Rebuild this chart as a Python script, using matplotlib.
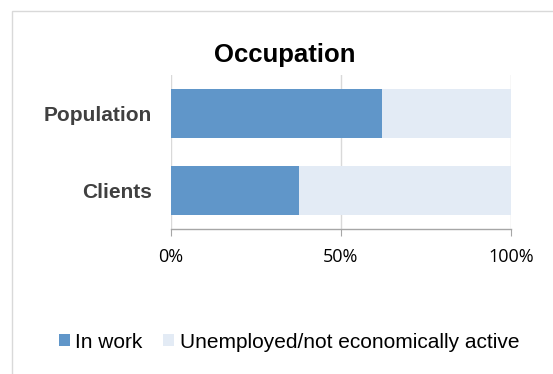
import matplotlib.pyplot as plt
from matplotlib.patches import Rectangle
from matplotlib.ticker import FuncFormatter

plt.rcParams['font.family'] = ['Liberation Sans', 'DejaVu Sans']

groups = ["Clients", "Population"]
in_work = [37.6, 62.0]
not_active = [100 - v for v in in_work]
series_names = ["In work", "Unemployed/not economically active"]
colors = ["#6096C9", "#E3EBF5"]

fig = plt.figure(figsize=(5.53, 3.74), dpi=100)
ax = fig.add_axes([171 / 553, 1 - 229 / 374, 340 / 553, 154 / 374])

# outer chart frame
fig.patches.append(Rectangle((12 / 553, -0.01), 1.0, 1 - 11 / 374 + 0.01,
                             transform=fig.transFigure, fill=False,
                             edgecolor="#D9D9D9", linewidth=1.0))

y = range(len(groups))
ax.barh(y, in_work, height=0.64, color=colors[0], label=series_names[0], zorder=2)
ax.barh(y, not_active, left=in_work, height=0.64, color=colors[1],
        label=series_names[1], zorder=2)

ax.set_xlim(0, 100)
ax.set_ylim(-0.5, 1.5)
ax.set_xticks([0, 50, 100])
ax.xaxis.set_major_formatter(FuncFormatter(lambda v, _: f"{v:.0f}%"))
for lbl in ax.get_xticklabels():
    lbl.set_family("Open Sans")
ax.set_yticks(list(y))
ax.set_yticklabels(groups, fontsize=15, fontweight="bold", color="#404040")
ax.tick_params(axis="y", length=0, pad=14)
ax.tick_params(axis="x", length=5, color="#A6A6A6", labelsize=13,
               labelcolor="#000000", pad=9)
ax.grid(axis="x", color="#D9D9D9", linewidth=1.0, zorder=0)

for side in ["top", "right", "left"]:
    ax.spines[side].set_visible(False)
ax.spines["bottom"].set_color("#A6A6A6")
ax.spines["bottom"].set_linewidth(1.0)

fig.text(285 / 553, 1 - 55 / 374, "Occupation", ha="center", va="center",
         fontsize=18.5, fontweight="bold")

fig.legend(loc="center", bbox_to_anchor=(289 / 553, 1 - 342 / 374), ncol=2,
           frameon=False, fontsize=15, handlelength=0.53, handleheight=0.53,
           handletextpad=0.25, columnspacing=1.0, borderpad=0.2)

fig.savefig("out.png", dpi=100)
